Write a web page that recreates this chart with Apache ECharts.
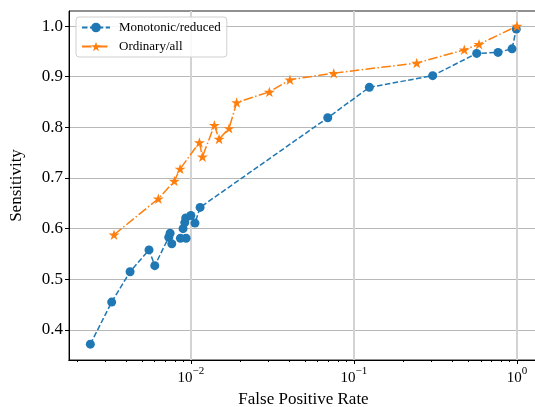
<!DOCTYPE html>
<html>
<head>
<meta charset="utf-8">
<script src="https://cdn.jsdelivr.net/npm/echarts@6/dist/echarts.min.js"></script>
<style>
  html, body { margin: 0; padding: 0; background: #fff; }
  #chart { width: 535px; height: 407px; }
</style>
</head>
<body>
<div id="chart"></div>
<script>
// Monotonic/reduced
const fprMono = [0.00242, 0.00327, 0.00424, 0.00554, 0.00601, 0.00732, 0.00746, 0.00764, 0.00863,
  0.00935, 0.00896, 0.00918, 0.0093, 0.0100, 0.0106, 0.0114, 0.0691, 0.1243, 0.304, 0.566, 0.765, 0.932, 0.99]
const sensMono = [0.372, 0.455, 0.515, 0.558, 0.527, 0.583, 0.591, 0.570, 0.581,
  0.581, 0.600, 0.612, 0.621, 0.626, 0.611, 0.642, 0.819, 0.879, 0.902, 0.946, 0.948, 0.955, 0.994]

// Ordinary/all
const fprOrd = [0.00338, 0.00632, 0.00792, 0.00859, 0.01128, 0.01178, 0.01394, 0.0149, 0.01715,
  0.0191, 0.0303, 0.0405, 0.0752, 0.2427, 0.475, 0.585, 1.0]
const sensOrd = [0.588, 0.659, 0.694, 0.718, 0.770, 0.742, 0.804, 0.777, 0.798,
  0.849, 0.870, 0.894, 0.907, 0.927, 0.953, 0.964, 1.0]

const xMajorTicks = [0.01, 0.1, 1]
const xMinorTicks = [0.002, 0.003, 0.004, 0.005, 0.006, 0.007, 0.008, 0.009,
  0.02, 0.03, 0.04, 0.05, 0.06, 0.07, 0.08, 0.09,
  0.2, 0.3, 0.4, 0.5, 0.6, 0.7, 0.8, 0.9]
const yTicks = [0.4, 0.5, 0.6, 0.7, 0.8, 0.9, 1.0]

const X_MIN = 0.00179
const X_MAX = 1.345
const Y_MIN = 0.3407
const Y_MAX = 1.0297

const FONT = '"Liberation Serif", "DejaVu Serif", serif'
const STAR = 'path://M0,-1L0.2245,-0.309L0.951,-0.309L0.363,0.118L0.588,0.809L0,0.382L-0.588,0.809L-0.363,0.118L-0.951,-0.309L-0.2245,-0.309Z'

const zip = (xs, ys) => xs.map((x, i) => [x, ys[i]])

const chart = echarts.init(document.getElementById('chart'), null, { renderer: 'canvas' })

const baseX = {
  type: 'log',
  logBase: 10,
  min: X_MIN,
  max: X_MAX,
  position: 'bottom',
  axisLine: { show: true, onZero: false, lineStyle: { color: '#000', width: 1 } },
}

chart.setOption({
  animation: false,
  backgroundColor: '#fff',
  textStyle: { fontFamily: FONT },
  grid: {
    left: 69, top: 11, width: 469, height: 349,
    outerBoundsMode: 'none',
    containLabel: false,
    show: true, borderColor: '#222', borderWidth: 1, backgroundColor: 'transparent'
  },
  legend: {
    orient: 'vertical',
    left: 76, top: 17,
    padding: [4, 6, 4, 5],
    itemGap: 6,
    itemWidth: 28,
    itemHeight: 12,
    backgroundColor: 'rgba(255,255,255,0.85)',
    borderColor: '#d0d0d0',
    borderWidth: 1,
    borderRadius: 3,
    textStyle: { fontFamily: FONT, fontSize: 13, color: '#000', padding: [0, 0, 0, 4] },
    data: ['Monotonic/reduced', 'Ordinary/all']
  },
  xAxis: [
    {
      ...baseX,
      name: 'False Positive Rate',
      nameLocation: 'middle',
      nameGap: 28,
      nameTextStyle: { fontFamily: FONT, fontSize: 17, color: '#000' },
      axisTick: { show: true, length: 4, customValues: xMajorTicks, lineStyle: { color: '#000' } },
      axisLabel: {
        customValues: xMajorTicks,
        margin: 6,
        color: '#000',
        formatter: v => '{b|10}{s|' + String(Math.round(Math.log10(v))).replace('-', '\u2212') + '}',
        rich: {
          b: { fontFamily: FONT, fontSize: 15, color: '#000', verticalAlign: 'bottom', lineHeight: 20 },
          s: { fontFamily: FONT, fontSize: 11, color: '#000', verticalAlign: 'top', lineHeight: 20 }
        }
      },
      splitLine: { show: true, lineStyle: { color: '#d3d3d3', width: 2 } }
    },
    {
      ...baseX,
      axisTick: { show: true, length: 2, customValues: xMinorTicks, lineStyle: { color: '#000' } },
      axisLabel: { show: false },
      splitLine: { show: false }
    }
  ],
  yAxis: {
    type: 'value',
    min: Y_MIN,
    max: Y_MAX,
    name: 'Sensitivity',
    nameLocation: 'middle',
    nameGap: 44,
    nameTextStyle: { fontFamily: FONT, fontSize: 17, color: '#000' },
    axisLine: { show: true, lineStyle: { color: '#000', width: 1 } },
    axisTick: { show: true, length: 4, customValues: yTicks, lineStyle: { color: '#000' } },
    axisLabel: {
      customValues: yTicks,
      margin: 6,
      fontFamily: FONT,
      fontSize: 17,
      color: '#000',
      formatter: v => v.toFixed(1)
    },
    splitLine: { show: true, lineStyle: { color: '#b8b8b8', width: 1 } }
  },
  series: [
    {
      name: 'Monotonic/reduced',
      type: 'line',
      data: zip(fprMono, sensMono),
      symbol: 'circle',
      symbolSize: 9,
      color: '#1f77b4',
      itemStyle: { color: '#1f77b4' },
      lineStyle: { color: '#1f77b4', width: 1.5, type: [5.5, 2.4] },
      z: 3
    },
    {
      name: 'Ordinary/all',
      type: 'line',
      data: zip(fprOrd, sensOrd),
      symbol: STAR,
      symbolSize: 11,
      symbolKeepAspect: true,
      color: '#ff7f0e',
      itemStyle: { color: '#ff7f0e' },
      lineStyle: { color: '#ff7f0e', width: 1.5, type: [9.6, 2.4, 1.5, 2.4] },
      z: 4
    }
  ]
})
</script>
</body>
</html>
